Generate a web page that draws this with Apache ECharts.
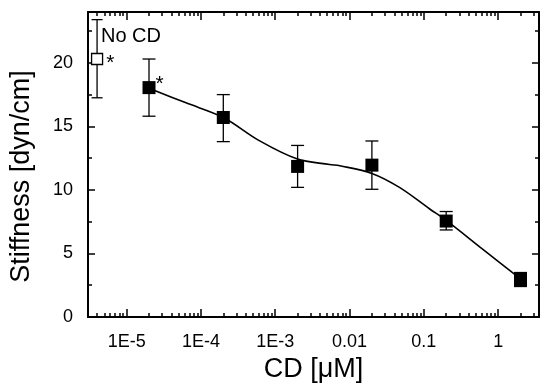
<!DOCTYPE html>
<html>
<head>
<meta charset="utf-8">
<script src="https://cdn.jsdelivr.net/npm/echarts@6/dist/echarts.min.js"></script>
<style>
  html, body { margin: 0; padding: 0; background: #fff; }
  #chart { width: 544px; height: 384px; }
</style>
</head>
<body>
<div id="chart"></div>
<script>
// control (no CD), drawn at an arbitrary spot left of the first dose
const noCdConc = [4e-6];
const noCdStiffness = [20.3];
const noCdLow = [17.25];
const noCdHigh = [23.4];

// CD doses [uM] and measured stiffness [dyn/cm]
const cdConc = [2e-5, 2e-4, 2e-3, 0.02, 0.2, 2];
const stiffness = [18.05, 15.7, 11.85, 11.95, 7.55, 2.95];
const stiffLow = [15.8, 13.8, 10.2, 10.05, 6.85, 2.4];
const stiffHigh = [20.3, 17.5, 13.5, 13.85, 8.3, 3.5];
const notes = ['*', '', '', '', '', ''];

// fitted curve
const fitConc = [2e-5, 6.3e-5, 2e-4, 6e-4, 1.95e-3, 5.4e-3, 7.4e-3, 0.02, 0.047, 0.12, 0.2, 0.63, 2];
const fitStiffness = [18.0, 16.85, 15.7, 13.9, 12.45, 12.0, 11.9, 11.3, 10.2, 8.5, 7.6, 5.3, 3.0];

// axis ticks
const decades = [-5, -4, -3, -2, -1, 0];
const decadeLabels = ['1E-5', '1E-4', '1E-3', '0.01', '0.1', '1'];
const yMajor = [0, 5, 10, 15, 20];
const yMinor = [2.5, 7.5, 12.5, 17.5, 22.5];

const X_MIN = -5.52, X_MAX = 0.55;
const lg = Math.log10;

const xMinor = [];
for (let n = -6; n <= 0; n++) {
  for (let k = 2; k <= 9; k++) {
    const v = lg(k) + n;
    if (v > X_MIN && v < X_MAX) xMinor.push(v);
  }
}

const font = 'Liberation Sans, Arial, Helvetica, sans-serif';
const black = '#000';

function xAxis(position, major) {
  return {
    type: 'value', position, min: X_MIN, max: X_MAX,
    axisLine: { show: major, onZero: false, lineStyle: { color: black, width: 2 } },
    splitLine: { show: false },
    axisTick: {
      show: true, inside: true, length: major ? 8 : 4,
      customValues: major ? decades : xMinor,
      lineStyle: { color: black, width: 1.5 }
    },
    axisLabel: major && position === 'bottom' ? {
      show: true, customValues: decades, margin: 16,
      color: black, fontFamily: font, fontSize: 18,
      formatter: v => decadeLabels[decades.indexOf(Math.round(v))]
    } : { show: false }
  };
}

function yAxis(position, major) {
  return {
    type: 'value', position, min: 0, max: 24,
    axisLine: { show: major, onZero: false, lineStyle: { color: black, width: 2 } },
    splitLine: { show: false },
    axisTick: {
      show: true, inside: true, length: major ? 7 : 4,
      customValues: major ? yMajor : yMinor,
      lineStyle: { color: black, width: 1.5 }
    },
    axisLabel: major && position === 'left' ? {
      show: true, customValues: yMajor, margin: 15,
      color: black, fontFamily: font, fontSize: 18
    } : { show: false }
  };
}

const xAxes = [xAxis('bottom', true), xAxis('bottom', false), xAxis('top', true), xAxis('top', false)];
Object.assign(xAxes[0], {
  name: 'CD [μM]', nameLocation: 'middle', nameGap: 38,
  nameTextStyle: { color: black, fontFamily: font, fontSize: 27 }
});
const yAxes = [yAxis('left', true), yAxis('left', false), yAxis('right', true), yAxis('right', false)];
Object.assign(yAxes[0], {
  name: 'Stiffness [dyn/cm]', nameLocation: 'middle', nameGap: 53,
  nameTextStyle: { color: black, fontFamily: font, fontSize: 27, padding: [0, 24, 0, 0] }
});

function errorBars(points, capHalf) {
  return {
    type: 'custom', z: 2, silent: true,
    data: points,
    encode: { x: 0, y: [1, 2] },
    renderItem: (params, api) => {
      const lo = api.coord([api.value(0), api.value(1)]);
      const hi = api.coord([api.value(0), api.value(2)]);
      const st = { stroke: black, lineWidth: 1.3 };
      return {
        type: 'group',
        children: [
          { type: 'line', shape: { x1: lo[0], y1: lo[1], x2: hi[0], y2: hi[1] }, style: st },
          { type: 'line', shape: { x1: lo[0] - capHalf, y1: lo[1], x2: lo[0] + capHalf, y2: lo[1] }, style: st },
          { type: 'line', shape: { x1: hi[0] - capHalf, y1: hi[1], x2: hi[0] + capHalf, y2: hi[1] }, style: st }
        ]
      };
    }
  };
}

const chart = echarts.init(document.getElementById('chart'), null, { renderer: 'canvas' });
chart.setOption({
  backgroundColor: '#fff',
  animation: false,
  grid: { left: 88, right: 5, top: 12, bottom: 67, containLabel: false, outerBoundsMode: 'none' },
  xAxis: xAxes,
  yAxis: yAxes,
  graphic: [{
    type: 'text', left: 101, top: 26,
    style: { text: 'No CD', fill: black, font: '20px ' + font }
  }],
  series: [
    {
      type: 'line', smooth: 0.35, showSymbol: false, z: 1, silent: true,
      lineStyle: { color: black, width: 1.6 },
      data: fitConc.map((c, i) => [lg(c), fitStiffness[i]])
    },
    errorBars(cdConc.map((c, i) => [lg(c), stiffLow[i], stiffHigh[i]]), 6.5),
    errorBars(noCdConc.map((c, i) => [lg(c), noCdLow[i], noCdHigh[i]]), 5.5),
    {
      type: 'scatter', symbol: 'rect', symbolSize: 13, z: 3,
      itemStyle: { color: black, opacity: 1 },
      label: {
        show: true, position: 'right', distance: 0, offset: [0, -3],
        formatter: p => notes[p.dataIndex],
        color: black, fontFamily: font, fontSize: 21
      },
      data: cdConc.map((c, i) => [lg(c), stiffness[i]])
    },
    {
      type: 'scatter', symbol: 'rect', symbolSize: 11, z: 3,
      itemStyle: { color: '#fff', borderColor: black, borderWidth: 1.3, opacity: 1 },
      label: {
        show: true, position: 'right', distance: 3, offset: [0, 4],
        formatter: '*', color: black, fontFamily: font, fontSize: 21
      },
      data: noCdConc.map((c, i) => [lg(c), noCdStiffness[i]])
    }
  ]
});
</script>
</body>
</html>
